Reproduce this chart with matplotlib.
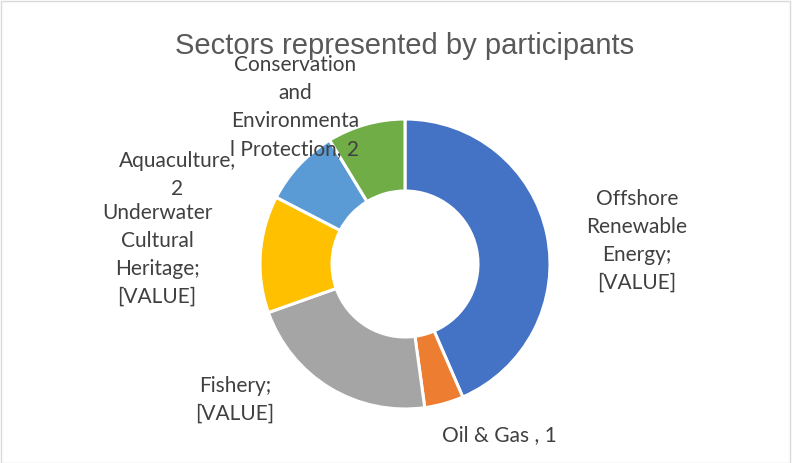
import matplotlib
matplotlib.use("Agg")
from matplotlib import pyplot as plt
from matplotlib.patches import Rectangle

# data
sectors = ["Offshore Renewable Energy", "Oil & Gas", "Fishery",
           "Underwater Cultural Heritage", "Aquaculture",
           "Conservation and Environmental Protection"]
counts = [10, 1, 5, 3, 2, 2]
colors = ["#4472C4", "#ED7D31", "#A5A5A5", "#FFC000", "#5B9BD5", "#70AD47"]

label_texts = ["Offshore\nRenewable\nEnergy;\n[VALUE]",
               "Oil & Gas , 1",
               "Fishery;\n[VALUE]",
               "Underwater\nCultural\nHeritage;\n[VALUE]",
               "Aquaculture,\n2",
               "Conservation\nand\nEnvironmenta\nl Protection, 2"]
# label centres in pixels (x from left, y from top)
label_pos = [(637, 241), (499, 435), (235, 400), (157, 255), (177, 175), (295, 107)]

W, H = 792, 464
cx, cy = 405, 265

fig = plt.figure(figsize=(W / 100, H / 100), dpi=100)
ax = fig.add_axes([0, 0, 1, 1])

ax.pie(counts, colors=colors, radius=145, startangle=90, counterclock=False,
       wedgeprops=dict(width=72, edgecolor="white", linewidth=2.2))

# pie() resets the limits, so set them afterwards
ax.set_xlim(-cx, W - cx)
ax.set_ylim(-(H - cy), cy)
ax.set_aspect("equal")
ax.axis("off")

for txt, (px, py) in zip(label_texts, label_pos):
    ax.text(px - cx, cy - py, txt, ha="center", va="center", multialignment="center",
            fontsize=15, color="#404040", family=["Lato", "DejaVu Sans"],
            linespacing=1.5)

fig.text(405 / W, 1 - 46 / H, "Sectors represented by participants", ha="center", va="center",
         fontsize=21, color="#595959", family=["Liberation Sans", "DejaVu Sans"])

fig.patches.append(Rectangle((0.5 / W, 0.5 / H), 1 - 3 / W, 1 - 2 / H, transform=fig.transFigure,
                             fill=False, edgecolor="#D9D9D9", linewidth=1))

plt.savefig("out.png", dpi=100)
